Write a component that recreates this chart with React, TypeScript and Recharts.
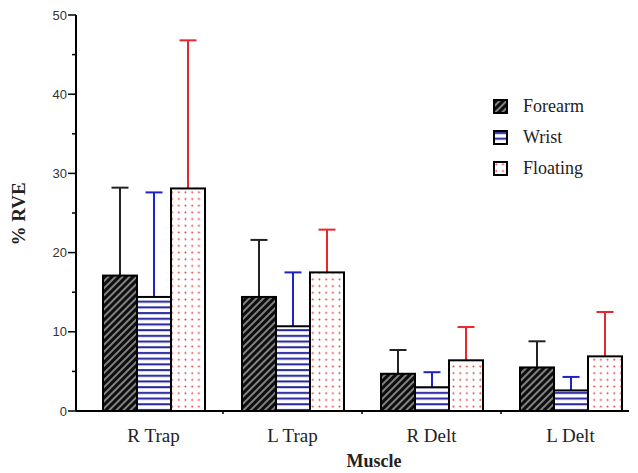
import React from 'react';
import { BarChart, Bar, XAxis, YAxis, Legend, Label } from 'recharts';

// values (% RVE, mean and +SD)
const muscles = ['R Trap', 'L Trap', 'R Delt', 'L Delt'];
const forearm = [17.1, 14.4, 4.7, 5.5];
const forearmSd = [11.1, 7.2, 3.0, 3.3];
const wrist = [14.4, 10.7, 3.0, 2.6];
const wristSd = [13.2, 6.8, 1.9, 1.7];
const floating = [28.1, 17.5, 6.4, 6.9];
const floatingSd = [18.7, 5.4, 4.2, 5.6];
const yTicks = [0, 5, 10, 15, 20, 25, 30, 35, 40, 45, 50];

const data = muscles.map((m, i) => ({
  muscle: m,
  forearm: forearm[i],
  forearmSd: forearmSd[i],
  wrist: wrist[i],
  wristSd: wristSd[i],
  floating: floating[i],
  floatingSd: floatingSd[i],
}));

const series = [
  { key: 'forearm', name: 'Forearm', fill: 'url(#pForearm)', err: '#222' },
  { key: 'wrist', name: 'Wrist', fill: 'url(#pWrist)', err: '#1f22c4' },
  { key: 'floating', name: 'Floating', fill: 'url(#pFloating)', err: '#e8262b' },
];

const serif = "'Liberation Serif', 'Times New Roman', serif";

const PatternBar = (props: any) => {
  const { x, y, width, height, payload, dataKey, errColor } = props;
  const value = payload[dataKey];
  const sd = payload[dataKey + 'Sd'];
  const perUnit = value ? height / value : 0;
  const cx = x + width / 2;
  const top = y - sd * perUnit;
  return (
    <g>
      <line x1={cx} y1={y} x2={cx} y2={top} stroke={errColor} strokeWidth={2} />
      <line x1={cx - 8.5} y1={top} x2={cx + 8.5} y2={top} stroke={errColor} strokeWidth={2} />
      <rect x={x} y={y} width={width} height={height} fill={props.fill} stroke="#000" strokeWidth={2} />
    </g>
  );
};

const YTick = (props: any) => {
  const { x, y, payload } = props;
  const major = payload.value % 10 === 0;
  return (
    <g>
      <line x1={x - (major ? 8 : 4)} y1={y} x2={payload.value === 0 ? x + 4 : x} y2={y} stroke="#000" strokeWidth={1.5} />
      {major && (
        <text x={x - 9} y={y} dy={4.5} textAnchor="end" fontFamily="'Liberation Sans', Arial, sans-serif" fontSize={13} fill="#333">
          {payload.value}
        </text>
      )}
    </g>
  );
};

const XTick = (props: any) => {
  const { x, y, payload, index } = props;
  return (
    <g>
      {index < muscles.length - 1 && (
        <line x1={x + 69.5} y1={y} x2={x + 69.5} y2={y + 3} stroke="#000" strokeWidth={1.5} />
      )}
      <text x={x} y={y + 31} textAnchor="middle" fontFamily={serif} fontSize={19} fill="#222">
        {payload.value}
      </text>
    </g>
  );
};

const Swatch = ({ fill }: { fill: string }) => (
  <svg width={15} height={15} style={{ display: 'block' }}>
    <rect x={1} y={1} width={13} height={13} fill={fill} stroke="#000" strokeWidth={2} />
  </svg>
);

const renderLegend = () => (
  <div style={{ fontFamily: serif, fontSize: 18, color: '#222' }}>
    {series.map(s => (
      <div key={s.key} style={{ display: 'flex', alignItems: 'center', height: 31 }}>
        <Swatch fill={s.fill} />
        <span style={{ marginLeft: 15 }}>{s.name}</span>
      </div>
    ))}
  </div>
);

export default function App() {
  return (
    <div style={{ width: 621, height: 462, overflow: 'hidden' }}>
      <BarChart width={640} height={462} data={data} margin={{ top: 7, right: 8, left: 0, bottom: 29 }} barGap={0} barCategoryGap={19}>
        <defs>
          <pattern id="pForearm" width={5} height={5} patternUnits="userSpaceOnUse" patternTransform="rotate(45)">
            <rect width={5} height={5} fill="#0d0d0d" />
            <line x1={1} y1={0} x2={1} y2={5} stroke="#e0e0e0" strokeWidth={1.1} />
          </pattern>
          <pattern id="pWrist" width={6} height={5.7} patternUnits="userSpaceOnUse">
            <rect width={6} height={5.7} fill="#fff" />
            <line x1={0} y1={3} x2={6} y2={3} stroke="#23239c" strokeWidth={2} />
          </pattern>
          <pattern id="pFloating" width={6.7} height={6.7} patternUnits="userSpaceOnUse">
            <rect width={6.7} height={6.7} fill="#fff" />
            <circle cx={3.3} cy={3.3} r={0.95} fill="#d83a3a" />
          </pattern>
        </defs>
        <XAxis
          dataKey="muscle"
          axisLine={{ stroke: '#000', strokeWidth: 2 }}
          tickLine={false}
          tickSize={0}
          tickMargin={0}
          height={30}
          padding={{ left: 8, right: 0 }}
          tick={<XTick />}
          interval={0}
        >
          <Label
            content={() => (
              <text x={366} y={459} textAnchor="middle" fontFamily={serif} fontSize={18} fontWeight="bold" fill="#222">
                Muscle
              </text>
            )}
          />
        </XAxis>
        <YAxis
          domain={[0, 50]}
          ticks={yTicks}
          interval={0}
          width={68}
          axisLine={{ stroke: '#000', strokeWidth: 2 }}
          tickLine={false}
          tickSize={0}
          tickMargin={0}
          tick={<YTick />}
        >
          <Label
            content={() => (
              <text x={17} y={206} transform="rotate(-90 17 206)" textAnchor="middle" fontFamily={serif} fontSize={19} fontWeight="bold" fill="#222">
                % RVE
              </text>
            )}
          />
        </YAxis>
        <Legend content={renderLegend} layout="vertical" align="center" verticalAlign="middle" wrapperStyle={{ top: 83, left: 485, width: 130 }} />
        {series.map(s => (
          <Bar
            key={s.key}
            dataKey={s.key}
            name={s.name}
            fill={s.fill}
            isAnimationActive={false}
            shape={(p: any) => <PatternBar {...p} dataKey={s.key} errColor={s.err} />}
          />
        ))}
      </BarChart>
    </div>
  );
}
